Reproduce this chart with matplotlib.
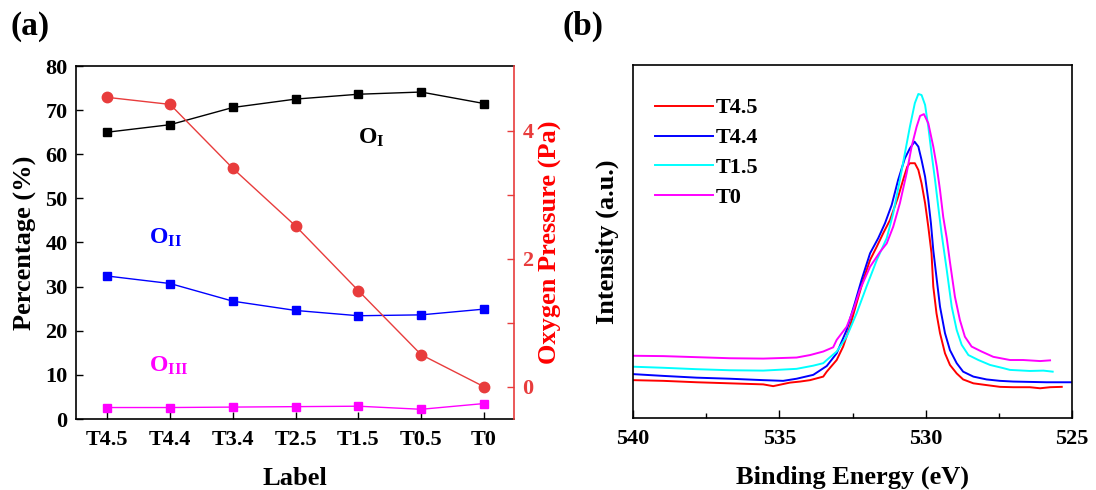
import matplotlib
matplotlib.use("Agg")
import matplotlib.pyplot as plt
from matplotlib.ticker import FixedLocator, MultipleLocator

plt.rcParams['font.family'] = ['Liberation Serif', 'DejaVu Serif']
plt.rcParams['font.weight'] = 'bold'
plt.rcParams['mathtext.fontset'] = 'custom'
plt.rcParams['mathtext.rm'] = 'Liberation Serif:bold'
plt.rcParams['mathtext.it'] = 'Liberation Serif:bold'
plt.rcParams['mathtext.bf'] = 'Liberation Serif:bold'

# ---------------- Panel (a) data ----------------
labels = ["T4.5", "T4.4", "T3.4", "T2.5", "T1.5", "T0.5", "T0"]
o1 = [65.0, 66.7, 70.6, 72.5, 73.6, 74.1, 71.5]
o2 = [32.4, 30.7, 26.7, 24.6, 23.4, 23.6, 24.9]
o3 = [2.6, 2.6, 2.7, 2.8, 2.9, 2.2, 3.5]
pressure = [4.52, 4.41, 3.41, 2.51, 1.50, 0.50, 0.0]

# ---------------- Panel (b) data (binding energy eV, intensity a.u.) ----------------
t45_E = [540.00, 538.96, 537.82, 536.69, 535.55, 535.21, 534.64, 534.29, 533.95, 533.50,
         533.38, 533.04, 532.82, 532.59, 532.36, 532.13, 531.90, 531.67, 531.45, 531.22,
         530.94, 530.77, 530.63, 530.54, 530.37, 530.25, 530.14, 530.02, 529.91, 529.80,
         529.74, 529.63, 529.51, 529.34, 529.17, 528.94, 528.72, 528.37, 527.92, 527.46,
         527.01, 526.44, 526.09, 525.75, 525.35]
t45_I = [10.8, 10.6, 10.2, 9.9, 9.6, 9.1, 10.1, 10.4, 10.8, 11.8,
         13.2, 16.5, 20.3, 25.9, 32.6, 39.2, 44.8, 48.6, 52.4, 56.1,
         62.7, 67.5, 71.2, 72.2, 72.2, 70.3, 66.5, 60.9, 54.2, 46.7,
         37.3, 29.7, 24.1, 18.4, 15.1, 12.7, 11.0, 9.9, 9.4, 8.9,
         8.8, 8.8, 8.5, 8.8, 8.9]

t44_E = [539.99, 538.96, 537.82, 536.69, 535.55, 534.87, 534.41, 533.84, 533.38, 533.04,
         532.70, 532.42, 532.19, 531.90, 531.62, 531.39, 531.16, 530.94, 530.71, 530.54,
         530.38, 530.25, 530.14, 530.02, 529.91, 529.82, 529.74, 529.62, 529.51, 529.34,
         529.17, 528.94, 528.72, 528.37, 527.92, 527.46, 527.01, 526.44, 525.87, 525.01]
t44_I = [12.5, 12.0, 11.5, 11.2, 10.8, 10.6, 11.2, 12.3, 14.8, 18.4,
         25.0, 32.6, 39.2, 46.7, 51.0, 55.2, 60.4, 67.5, 73.6, 76.4,
         78.3, 76.9, 73.1, 68.4, 61.8, 55.2, 47.6, 39.2, 31.6, 24.1,
         19.3, 15.6, 13.2, 11.8, 11.0, 10.6, 10.4, 10.3, 10.2, 10.2]

t15_E = [539.99, 538.96, 537.82, 536.69, 535.55, 534.41, 533.84, 533.50, 533.38, 533.04,
         532.70, 532.36, 532.02, 531.67, 531.33, 531.11, 530.88, 530.71, 530.54, 530.37,
         530.25, 530.14, 530.02, 529.91, 529.80, 529.68, 529.57, 529.46, 529.28, 529.11,
         528.94, 528.77, 528.54, 528.20, 527.80, 527.35, 527.12, 526.44, 525.98, 525.66]
t15_I = [14.6, 14.3, 13.9, 13.6, 13.5, 14.0, 14.9, 15.6, 16.5, 18.9,
         23.1, 29.7, 37.3, 44.8, 51.0, 58.0, 67.5, 75.0, 82.5, 89.2,
         91.8, 91.5, 88.7, 82.5, 75.0, 67.5, 59.9, 52.5, 42.0, 31.6,
         25.0, 20.8, 17.9, 16.5, 15.1, 14.2, 13.7, 13.4, 13.5, 13.2]

t0_E = [539.99, 538.96, 537.82, 536.69, 535.55, 534.41, 533.95, 533.50, 533.16, 533.04,
        532.70, 532.47, 532.25, 531.90, 531.56, 531.33, 531.11, 530.88, 530.65, 530.48,
        530.31, 530.19, 530.06, 529.91, 529.74, 529.62, 529.51, 529.40, 529.28, 529.17,
        529.00, 528.83, 528.66, 528.43, 528.09, 527.69, 527.12, 526.67, 526.09, 525.75]
t0_I = [17.7, 17.6, 17.3, 17.0, 16.9, 17.2, 17.9, 18.9, 20.1, 22.2,
        25.9, 30.7, 36.3, 42.9, 47.1, 49.5, 54.2, 60.9, 69.4, 76.9,
        82.5, 85.6, 86.1, 83.5, 76.9, 71.2, 64.6, 57.0, 51.0, 44.2,
        34.4, 27.8, 23.1, 20.3, 18.9, 17.4, 16.5, 16.5, 16.2, 16.4]

spectra_names = ["T4.5", "T4.4", "T1.5", "T0"]
spectra_colors = ["#ff0000", "#0000ff", "#00ffff", "#ff00ff"]

# ---------------- Figure ----------------
W, H = 1096, 490
fig = plt.figure(figsize=(W / 100, H / 100), dpi=100)

def pos(l, t, r, b):
    return [l / W, 1 - b / H, (r - l) / W, (b - t) / H]

TICK_FS = 16
LABEL_FS = 19
red = "#e83c3c"

# ---- panel (a)
ax = fig.add_axes(pos(76, 66, 514, 419))
xi = list(range(len(labels)))
ax.plot(xi, o1, color="black", lw=1.0, marker="s", ms=5.8, zorder=3)
ax.plot(xi, o2, color="#0000ff", lw=1.0, marker="s", ms=5.8, zorder=3)
ax.plot(xi, o3, color="#ff00ff", lw=1.0, marker="s", ms=5.8, zorder=3)
ax.set_xlim(-0.5, 6.48)
ax.set_ylim(0, 80)
ax.set_xticks(xi)
ax.set_xticklabels(labels)
ax.yaxis.set_major_locator(MultipleLocator(10))
ax.tick_params(axis="both", direction="in", length=5, width=1.0, labelsize=TICK_FS, pad=6)
ax.tick_params(axis="x", pad=8)
ax.tick_params(axis="y", right=False)
ax.set_xlabel("Label", fontsize=LABEL_FS, fontweight="bold", labelpad=12)
ax.set_ylabel("Percentage (%)", fontsize=LABEL_FS, fontweight="bold", labelpad=6)
for s in ax.spines.values():
    s.set_linewidth(1.2)
ax.spines["right"].set_visible(False)

ax.text(4.0, 62.3, r"$\mathrm{O_{I}}$", fontsize=17, color="black")
ax.text(0.67, 39.8, r"$\mathrm{O_{II}}$", fontsize=17, color="#0000ff")
ax.text(0.67, 10.8, r"$\mathrm{O_{III}}$", fontsize=17, color="#ff00ff")

ax2 = ax.twinx()
ax2.plot(xi, pressure, color=red, lw=1.0, marker="o", ms=7.5, zorder=4)
ax2.set_ylim(-0.505, 5.01)
ax2.set_yticks([0, 2, 4])
ax2.yaxis.set_minor_locator(FixedLocator([1, 3]))
ax2.tick_params(axis="y", which="both", direction="in", colors=red, labelcolor=red,
                labelsize=TICK_FS, width=1.0, pad=6)
ax2.tick_params(axis="y", which="major", length=5)
ax2.tick_params(axis="y", which="minor", length=5)
for k in ["left", "top", "bottom"]:
    ax2.spines[k].set_visible(False)
ax2.spines["right"].set_color(red)
ax2.spines["right"].set_linewidth(1.2)
ax2.set_ylabel("Oxygen Pressure (Pa)", fontsize=LABEL_FS, fontweight="bold", color="#ff0000", labelpad=4)

# ---- panel (b)
bx = fig.add_axes(pos(633, 65, 1072, 418.3))
series = [(t45_E, t45_I), (t44_E, t44_I), (t15_E, t15_I), (t0_E, t0_I)]
for (e, i), name, c in zip(series, spectra_names, spectra_colors):
    bx.plot(e, i, color=c, lw=1.4, label=name)
bx.set_xlim(540, 525)
bx.set_ylim(0, 100)
bx.set_xticks([540, 535, 530, 525])
bx.xaxis.set_minor_locator(FixedLocator([537.5, 532.5, 527.5]))
bx.set_yticks([])
bx.tick_params(axis="x", which="major", direction="in", length=6, width=1.0, labelsize=TICK_FS, pad=8)
bx.tick_params(axis="x", which="minor", direction="in", length=3.5, width=1.0)
for s in bx.spines.values():
    s.set_linewidth(1.2)
bx.set_xlabel("Binding Energy (eV)", fontsize=LABEL_FS, fontweight="bold", labelpad=12)
bx.set_ylabel("Intensity (a.u.)", fontsize=LABEL_FS, fontweight="bold", labelpad=10)
leg = bx.legend(loc="upper left", bbox_to_anchor=(0.03, 0.932), frameon=False,
                handlelength=2.6, handletextpad=0.12, labelspacing=0.42,
                borderaxespad=0, prop={"weight": "bold", "size": TICK_FS})

fig.text(10 / W, 1 - 26 / H, "(a)", fontsize=24, fontweight="bold", va="center", ha="left")
fig.text(562 / W, 1 - 26 / H, "(b)", fontsize=24, fontweight="bold", va="center", ha="left")

fig.savefig("out.png", dpi=100)
